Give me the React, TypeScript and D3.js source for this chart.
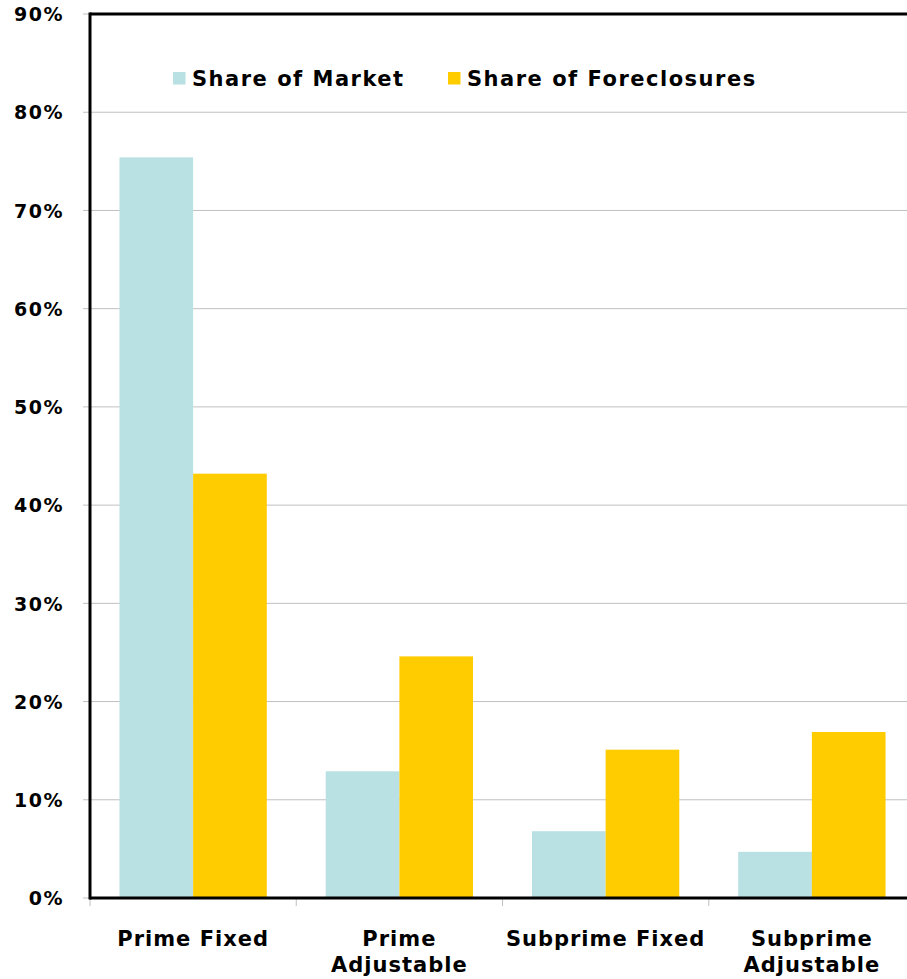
import { useRef, useEffect } from "react";
import * as d3 from "d3";

const categories = [["Prime Fixed"], ["Prime", "Adjustable"], ["Subprime Fixed"], ["Subprime", "Adjustable"]];
const seriesNames = ["Share of Market", "Share of Foreclosures"];
const shareOfMarket = [75.4, 12.9, 6.8, 4.7];
const shareOfForeclosures = [43.2, 24.6, 15.1, 16.9];
const yTicks = [0, 10, 20, 30, 40, 50, 60, 70, 80, 90];
const colors = ["#b9e0e2", "#ffcc00"];

const width = 907;
const height = 979;
const margin = { left: 90, top: 14, right: -8, bottom: 80 };
const font = "'DejaVu Sans', Verdana, sans-serif";

export default function App() {
  const ref = useRef<SVGSVGElement>(null);

  useEffect(() => {
    if (!ref.current) return;
    const svg = d3.select(ref.current);
    svg.selectAll("*").remove();

    const x0 = d3
      .scaleBand<number>()
      .domain(categories.map((_, i) => i))
      .range([margin.left, width - margin.right])
      .padding(0);
    const x1 = d3
      .scaleBand<number>()
      .domain([0, 1])
      .range([0, x0.bandwidth()])
      .paddingInner(0)
      .paddingOuter(0.4);
    const y = d3
      .scaleLinear()
      .domain([0, 90])
      .range([height - margin.bottom - 1, margin.top]);

    // gridlines
    svg
      .append("g")
      .selectAll("line")
      .data(yTicks.slice(1, -1))
      .join("line")
      .attr("x1", margin.left)
      .attr("x2", width)
      .attr("y1", (d) => y(d))
      .attr("y2", (d) => y(d))
      .attr("stroke", "#c0c0c0")
      .attr("stroke-width", 1);

    // y tick marks + labels
    const yAxis = svg.append("g");
    yAxis
      .selectAll("line")
      .data(yTicks)
      .join("line")
      .attr("x1", margin.left - 7)
      .attr("x2", margin.left)
      .attr("y1", (d) => y(d))
      .attr("y2", (d) => y(d))
      .attr("stroke", "#c0c0c0");
    yAxis
      .selectAll("text")
      .data(yTicks)
      .join("text")
      .attr("x", 64)
      .attr("y", (d) => y(d))
      .attr("dy", "0.38em")
      .attr("text-anchor", "end")
      .attr("font-family", font)
      .attr("font-weight", "bold")
      .attr("font-size", 19)
      .attr("letter-spacing", 1.5)
      .text((d) => `${d}%`);

    // bars
    const rows = categories.map((_, i) => [shareOfMarket[i], shareOfForeclosures[i]]);
    svg
      .append("g")
      .selectAll("g")
      .data(rows)
      .join("g")
      .attr("transform", (_, i) => `translate(${x0(i)},0)`)
      .selectAll("rect")
      .data((d) => d)
      .join("rect")
      .attr("x", (_, j) => x1(j) as number)
      .attr("width", x1.bandwidth())
      .attr("y", (d) => y(d))
      .attr("height", (d) => y(0) - y(d))
      .attr("fill", (_, j) => colors[j]);

    // x ticks
    svg
      .append("g")
      .selectAll("line")
      .data(categories.map((_, i) => i))
      .join("line")
      .attr("x1", (i) => x0(i) as number)
      .attr("x2", (i) => x0(i) as number)
      .attr("y1", y(0))
      .attr("y2", y(0) + 8)
      .attr("stroke", "#c0c0c0");

    // frame: top, left, bottom
    svg
      .append("line")
      .attr("x1", margin.left)
      .attr("x2", width)
      .attr("y1", margin.top)
      .attr("y2", margin.top)
      .attr("stroke", "#000")
      .attr("stroke-width", 3);
    svg
      .append("line")
      .attr("x1", margin.left)
      .attr("x2", margin.left)
      .attr("y1", margin.top - 1.5)
      .attr("y2", y(0) + 1.5)
      .attr("stroke", "#000")
      .attr("stroke-width", 3);
    svg
      .append("line")
      .attr("x1", margin.left)
      .attr("x2", width)
      .attr("y1", y(0))
      .attr("y2", y(0))
      .attr("stroke", "#000")
      .attr("stroke-width", 3);

    // category labels
    const catG = svg
      .append("g")
      .selectAll("text")
      .data(categories)
      .join("text")
      .attr("x", (_, i) => (x0(i) as number) + x0.bandwidth() / 2)
      .attr("y", 946)
      .attr("text-anchor", "middle")
      .attr("font-family", font)
      .attr("font-weight", "bold")
      .attr("font-size", 21)
      .attr("letter-spacing", 1);
    catG
      .selectAll("tspan")
      .data((d) => d)
      .join("tspan")
      .attr("x", function () {
        return (this.parentNode as SVGTextElement).getAttribute("x");
      })
      .attr("dy", (_, k) => (k === 0 ? 0 : 26))
      .text((d) => d);

    // legend
    const legendX = [173, 448];
    const legend = svg
      .append("g")
      .selectAll("g")
      .data(seriesNames)
      .join("g")
      .attr("transform", (_, i) => `translate(${legendX[i]},72)`);
    legend
      .append("rect")
      .attr("width", 12.5)
      .attr("height", 12.5)
      .attr("fill", (_, i) => colors[i]);
    legend
      .append("text")
      .attr("x", 19)
      .attr("y", 14)
      .attr("font-family", font)
      .attr("font-weight", "bold")
      .attr("font-size", 21)
      .attr("letter-spacing", 1.5)
      .text((d) => d);
  }, []);

  return (
    <svg
      ref={ref}
      width={width}
      height={height}
      style={{ position: "absolute", left: 0, top: 0, background: "#fff" }}
    />
  );
}
